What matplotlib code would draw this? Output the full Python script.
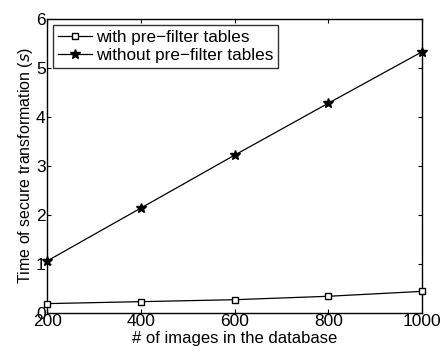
import matplotlib
matplotlib.use("Agg")
import matplotlib.pyplot as plt

plt.rcParams["font.family"] = ["Liberation Sans", "DejaVu Sans"]

# ─── data ───
n_images = [200, 400, 600, 800, 1000]
with_prefilter = [0.19, 0.23, 0.27, 0.34, 0.44]
without_prefilter = [1.06, 2.14, 3.22, 4.28, 5.33]

x_ticks = [200, 400, 600, 800, 1000]
y_ticks = [0, 1, 2, 3, 4, 5, 6]

fig = plt.figure(figsize=(4.4, 3.52), dpi=100, facecolor="white")
ax = fig.add_axes([0.107, 0.111, 0.852, 0.835])

ax.plot(n_images, with_prefilter, color="black", lw=0.9, marker="s",
        ms=4.5, mfc="white", mec="black", mew=1.0, clip_on=False,
        label="with pre\u2212filter tables", zorder=3)
ax.plot(n_images, without_prefilter, color="black", lw=0.9, marker="*",
        ms=7, mfc="black", mec="black", clip_on=False,
        label="without pre\u2212filter tables", zorder=3)

ax.set_xlim(200, 1000)
ax.set_ylim(0, 6)
ax.set_xticks(x_ticks)
ax.set_yticks(y_ticks)
ax.tick_params(direction="in", top=True, right=True, length=3,
               width=0.8, labelsize=12.5, pad=1)
for sp in ax.spines.values():
    sp.set_linewidth(1.0)

ax.set_xlabel("# of images in the database", fontsize=12, labelpad=1)
ax.set_ylabel("Time of secure transformation ($\\it{s}$)", fontsize=11.5, labelpad=1)

leg = ax.legend(loc="upper left", fontsize=12.3, frameon=True, fancybox=False,
                edgecolor="black", handlelength=2.0, handletextpad=0.2,
                borderpad=0.3, labelspacing=0.15, borderaxespad=0.35)
leg.get_frame().set_linewidth(1.0)

fig.savefig("out.png", dpi=100, facecolor="white")
